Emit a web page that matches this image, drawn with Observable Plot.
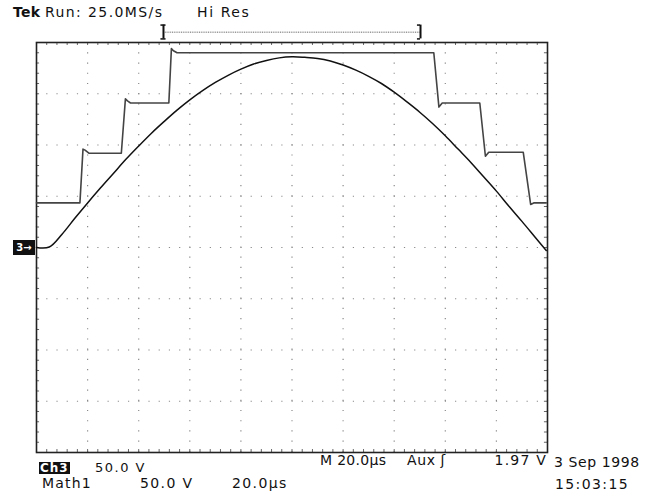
<!DOCTYPE html>
<html>
<head>
<meta charset="utf-8">
<script src="https://cdn.jsdelivr.net/npm/d3@7"></script>
<script src="https://cdn.jsdelivr.net/npm/@observablehq/plot@0.6"></script>
<style>
  html, body { margin: 0; padding: 0; background: #fff; }
  #wrap { position: relative; width: 645px; height: 499px; overflow: hidden; font-family: "DejaVu Sans", sans-serif; color: #111; }
  #wrap svg { position: absolute; left: 0; top: 0; }
  .t { position: absolute; white-space: pre; font-size: 14px; line-height: 1; letter-spacing: 1.2px; }
  .inv { background: #111; color: #fff; font-weight: bold; padding: 0 1px; letter-spacing: 0.5px; }
</style>
</head>
<body>
<div id="wrap">
  <div class="t" style="left:13px; top:5px; letter-spacing:0.3px;"><b>Tek</b></div>
  <div class="t" style="left:45px; top:5px; letter-spacing:1.4px;">Run: 25.0MS/s</div>
  <div class="t" style="left:197px; top:5px; letter-spacing:1.6px;">Hi Res</div>
  <div class="t inv" style="left:13px; top:240px; width:20px; height:15px; font-size:10px; line-height:15px; text-align:center; letter-spacing:0;">3→</div>
  <div class="t" style="left:320px; top:453px; letter-spacing:0.3px;">M 20.0µs</div>
  <div class="t" style="left:407px; top:453px; letter-spacing:0.6px;">Aux ʃ</div>
  <div class="t" style="right:98px; top:453px; letter-spacing:1.2px;">1.97 V</div>
  <div class="t" style="left:554px; top:455px; letter-spacing:0.6px;">3 Sep 1998</div>
  <div class="t" style="left:555px; top:477px; letter-spacing:1.4px;">15:03:15</div>
  <div class="t inv" style="left:39px; top:462px; font-size:12px; line-height:12px; letter-spacing:1px;">Ch3</div>
  <div class="t" style="left:95px; top:462px; font-size:13px; line-height:12px; letter-spacing:1.5px;">50.0 V</div>
  <div class="t" style="left:42px; top:476px; letter-spacing:1.2px;">Math1</div>
  <div class="t" style="left:140px; top:476px; letter-spacing:1.4px;">50.0 V</div>
  <div class="t" style="left:232px; top:476px; letter-spacing:1.4px;">20.0µs</div>
</div>
<script>
// time in µs (20 µs/div), volts (50 V/div)
const sineT = [0, 5, 10, 15, 20, 25, 30, 35, 40, 45, 50, 55, 60, 65, 70, 75, 80, 85, 90, 95, 100,
  105, 110, 115, 120, 125, 130, 135, 140, 145, 150, 155, 160, 165, 170, 175, 180, 185, 190, 195, 199.5];
const sineV = [0, 0.5, 13, 28.5, 43.5, 58, 72, 86, 99, 111.5, 123, 134, 144, 153, 161, 168, 174, 179, 182.5, 185, 186,
  185.5, 184.5, 182, 178, 173, 167, 160, 151.5, 142, 132, 121, 109, 96, 83, 69, 55, 40, 25.5, 10.5, -3];

const stairT = [0, 17, 18.2, 19, 20.5, 33.2, 34.8, 35.6, 36.8, 51.8, 52.8, 53.6, 55, 155.5, 157.5, 158.8,
  173.5, 175.7, 177, 190.5, 193.4, 194.6, 199.5];
const stairV = [43.5, 43.5, 96, 95, 92, 92, 145, 143, 141, 141, 194, 192, 190, 190, 137, 141,
  141, 89, 93, 93, 42, 43.5, 43.5];

const xDomain = [0, 200];
const yDomain = [-200, 200];
const majorX = d3.range(0, 201, 20);
const majorY = d3.range(-200, 201, 50);
const minorX = d3.range(0, 200.01, 4);
const minorY = d3.range(-200, 200.01, 10);

// record window bracket above the graticule
const windowStart = 49.7, windowEnd = 150.3, windowLevel = 210, windowTop = 217, windowBottom = 203.5;

const sine = sineT.map((t, i) => ({t, v: sineV[i]}));
const stair = stairT.map((t, i) => ({t, v: stairV[i]}));

// inward edge tick lengths, in scale units (≈3 px)
const tickV = 2.9, tickT = 1.2;

const chart = Plot.plot({
  width: 645,
  height: 499,
  marginLeft: 36,
  marginRight: 98,
  marginTop: 42,
  marginBottom: 47,
  x: {domain: xDomain, axis: null},
  y: {domain: yDomain, axis: null},
  marks: [
    Plot.ruleX(majorX, {stroke: "#8a8a8a", strokeWidth: 1.2, strokeDasharray: "1.2,9.02"}),
    Plot.ruleY(majorY, {stroke: "#8a8a8a", strokeWidth: 1.2, strokeDasharray: "1.2,9.02"}),
    Plot.ruleX(minorX, {y1: yDomain[1], y2: yDomain[1] - tickV, stroke: "#666", strokeWidth: 1}),
    Plot.ruleX(minorX, {y1: yDomain[0], y2: yDomain[0] + tickV, stroke: "#666", strokeWidth: 1}),
    Plot.ruleY(minorY, {x1: xDomain[0], x2: xDomain[0] + tickT, stroke: "#666", strokeWidth: 1}),
    Plot.ruleY(minorY, {x1: xDomain[1], x2: xDomain[1] - tickT, stroke: "#666", strokeWidth: 1}),
    Plot.frame({stroke: "#222", strokeWidth: 1.6}),
    Plot.line(stair, {x: "t", y: "v", stroke: "#444", strokeWidth: 1.6}),
    Plot.line(sine, {x: "t", y: "v", stroke: "#111", strokeWidth: 1.5, curve: "catmull-rom"}),
    // record window indicator
    Plot.ruleY([windowLevel], {x1: windowStart, x2: windowEnd, stroke: "#999", strokeWidth: 1.5, strokeDasharray: "1,0.8", clip: false}),
    Plot.ruleX([windowStart, windowEnd], {y1: windowBottom, y2: windowTop, stroke: "#111", strokeWidth: 2, clip: false}),
    Plot.ruleY([windowTop, windowBottom], {x1: windowStart - 1, x2: windowStart + 1, stroke: "#111", strokeWidth: 1.5, clip: false}),
    Plot.ruleY([windowTop, windowBottom], {x1: windowEnd - 1.2, x2: windowEnd, stroke: "#111", strokeWidth: 1.5, clip: false})
  ]
});
document.getElementById("wrap").prepend(chart);
</script>
</body>
</html>
